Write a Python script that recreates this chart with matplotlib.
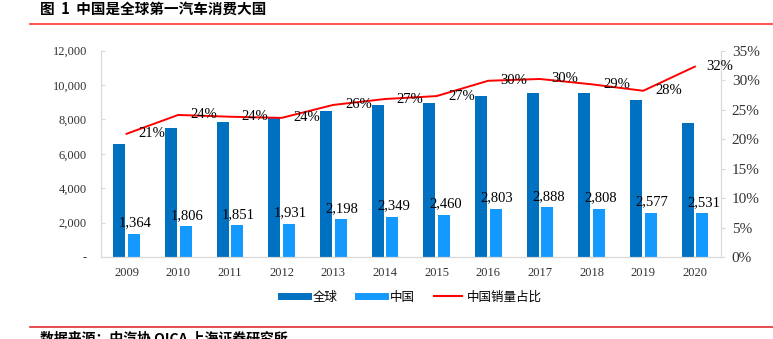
import matplotlib
matplotlib.use("Agg")
import matplotlib.pyplot as plt
from matplotlib.lines import Line2D
import numpy as np

years = ["2009", "2010", "2011", "2012", "2013", "2014",
         "2015", "2016", "2017", "2018", "2019", "2020"]
global_sales = [6550, 7480, 7830, 8170, 8520, 8830, 8950, 9370, 9530, 9530, 9140, 7790]
china_sales = [1364, 1806, 1851, 1931, 2198, 2349, 2460, 2803, 2888, 2808, 2577, 2531]
china_share = [20.9, 24.1, 23.8, 23.6, 25.8, 26.8, 27.3, 29.9, 30.2, 29.3, 28.2, 32.3]

left_ticks = [0, 2000, 4000, 6000, 8000, 10000, 12000]
right_ticks = [0, 5, 10, 15, 20, 25, 30, 35]

DARK = "#0070C0"
LIGHT = "#1499FF"
RED = "#FF0000"
SPINE = "#D9D9D9"
SERIF = "Liberation Serif"
CJK = ["Noto Sans CJK SC", "DejaVu Sans"]

fig = plt.figure(figsize=(7.73, 3.39), dpi=100)
ax = fig.add_axes([100.7 / 773, 1 - 257 / 339, 620 / 773, 206.3 / 339])
ax2 = ax.twinx()

x = np.arange(len(years))
w = 0.232
ax.bar(x - 0.142, global_sales, w, color=DARK, zorder=2)
ax.bar(x + 0.142, china_sales, w, color=LIGHT, zorder=2)

for xi, v in zip(x, china_sales):
    ax.annotate(f"{v:,}", (xi + 0.17, v), xytext=(0, 3), textcoords="offset points",
                ha="center", va="bottom", fontsize=10.5, family=SERIF, color="black")

ax2.plot(x, china_share, color=RED, lw=1.4, zorder=3)
for xi, v in zip(x, china_share):
    ax2.annotate(f"{v:.0f}%", (xi, v), xytext=(8.5, 0), textcoords="offset points",
                 ha="left", va="center", fontsize=10.5, family=SERIF, color="black")

ax.set_xlim(-0.5, len(years) - 0.5)
ax.set_ylim(0, 12000)
ax2.set_ylim(0, 35)

ax.set_xticks(x)
ax.set_xticklabels(years)
ax.set_yticks(left_ticks)
ax.set_yticklabels(["-"] + [f"{t:,}" for t in left_ticks[1:]])
ax2.set_yticks(right_ticks)
ax2.set_yticklabels([f"{t}%" for t in right_ticks])

for a in (ax, ax2):
    for s in a.spines.values():
        s.set_color(SPINE)
    a.spines["top"].set_visible(False)
ax.tick_params(axis="x", length=0, pad=7, labelsize=9, labelcolor="#333333")
ax.tick_params(axis="y", direction="in", length=3, color=SPINE, pad=10, labelsize=9,
               labelcolor="#333333")
ax2.tick_params(axis="y", direction="out", length=3, color=SPINE, pad=5, labelsize=11,
                labelcolor="#333333")
for lab in ax.get_xticklabels() + ax.get_yticklabels() + ax2.get_yticklabels():
    lab.set_family(SERIF)

handles = [Line2D([0], [0], color=DARK, lw=5),
           Line2D([0], [0], color=LIGHT, lw=5),
           Line2D([0], [0], color=RED, lw=1.5)]
fig.legend(handles, ["全球", "中国", "中国销量占比"], loc="center",
           bbox_to_anchor=(411 / 773, 1 - 297 / 339), ncol=3, frameon=False,
           prop={"family": CJK, "size": 9}, handlelength=2.2, handletextpad=0.35,
           columnspacing=1.6)

fig.text(40 / 773, 1 - 9 / 339, "图  1  中国是全球第一汽车消费大国", ha="left", va="center",
         fontsize=10.5, fontweight="bold", family=CJK)
fig.add_artist(Line2D([30 / 773, 1], [1 - 24 / 339] * 2, color="#FF3333", lw=1.2))
fig.add_artist(Line2D([30 / 773, 1], [1 - 327 / 339] * 2, color="#E03030", lw=1.2))
fig.text(40 / 773, 1 - 331 / 339, "数据来源：中汽协 OICA 上海证券研究所", ha="left", va="top",
         fontsize=10, fontweight="bold", style="italic", family=CJK)

fig.savefig("out.png", dpi=100)
